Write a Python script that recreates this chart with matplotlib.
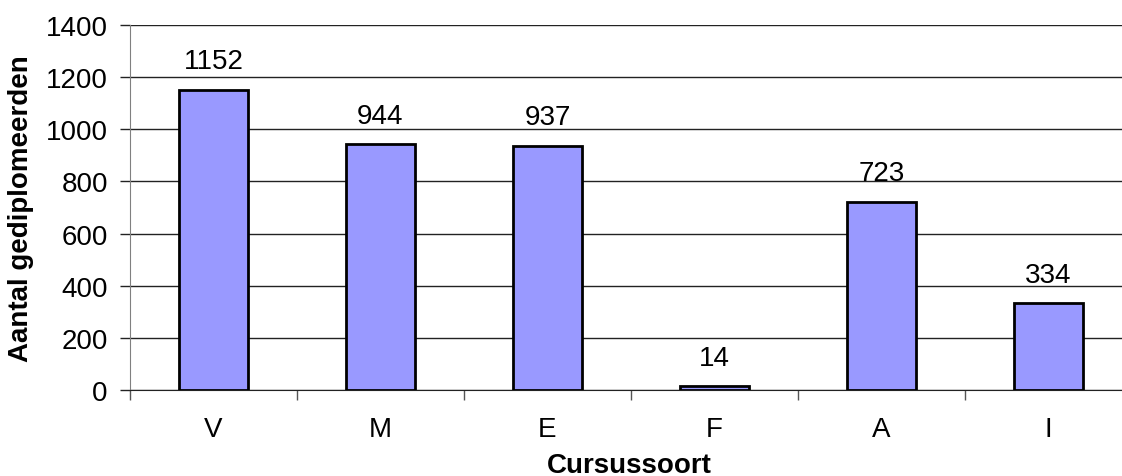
import matplotlib.pyplot as plt

cursussoort = ['V', 'M', 'E', 'F', 'A', 'I']
gediplomeerden = [1152, 944, 937, 14, 723, 334]
yticks = [0, 200, 400, 600, 800, 1000, 1200, 1400]

plt.rcParams['font.family'] = ['Liberation Sans', 'DejaVu Sans']

fig = plt.figure(figsize=(11.22, 4.77), dpi=100)
# axes run past the right edge of the picture, as in the original
ax = fig.add_axes([130 / 1122, (477 - 391) / 477, 1002 / 1122, 365 / 477])

x = range(len(cursussoort))
bars = ax.bar(x, gediplomeerden, width=0.41, color='#9999FF',
              edgecolor='black', linewidth=2.0, zorder=3)
for b, v in zip(bars, gediplomeerden):
    ax.annotate(str(v), (b.get_x() + b.get_width() / 2, v),
                xytext=(0, 11), textcoords='offset points',
                ha='center', va='bottom', fontsize=20)

ax.set_xlim(-0.5, len(cursussoort) - 0.5)
ax.set_ylim(0, 1400)
ax.set_yticks(yticks)
ax.yaxis.grid(True, color='#222222', linewidth=1.0, zorder=0)
ax.set_xticks([i + 0.5 for i in range(-1, len(cursussoort))], minor=False)
ax.set_xticklabels([])
ax.set_xticks(list(x), minor=True)
ax.set_xticklabels(cursussoort, minor=True)
ax.tick_params(axis='x', which='major', length=7, width=1, color='#555555')
ax.tick_params(axis='x', which='minor', length=0, pad=19, labelsize=20)
ax.tick_params(axis='y', length=7, width=1, color='#222222', pad=9, labelsize=20)

for s in ['top', 'right']:
    ax.spines[s].set_visible(False)
ax.spines['left'].set_color('#808080')
ax.spines['bottom'].set_color('#222222')

ax.set_ylabel('Aantal gediplomeerden', fontsize=20, fontweight='bold')
ax.yaxis.set_label_coords(-(130 - 34) / 1002, 0.5)
ax.set_xlabel('Cursussoort', fontsize=20, fontweight='bold')
ax.xaxis.set_label_coords((629 - 130) / 1002, -(453 - 391) / 365)

fig.savefig('out.png', dpi=100)
